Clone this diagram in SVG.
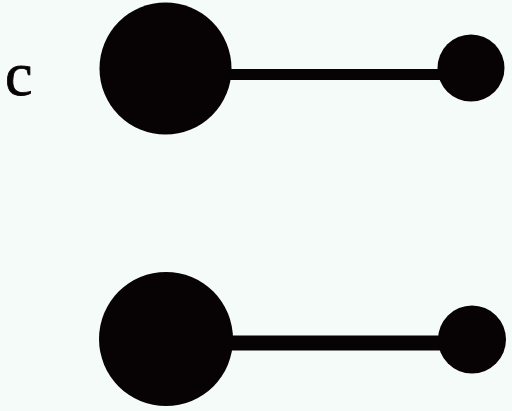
<svg xmlns="http://www.w3.org/2000/svg" width="512" height="411" viewBox="0 0 512 411">
<style>
.n{fill:#070305}
.e{stroke:#070305;fill:none}
.t{font-family:"Liberation Serif","DejaVu Serif",serif;fill:#070305}
</style>
<rect width="512" height="411" fill="#f5fbf8"/>
<text class="t" x="5" y="95" font-size="62" stroke="#070305" stroke-width="0.8">c</text>
<g id="connectors">
<line class="e" x1="225" y1="74.5" x2="445" y2="74.5" stroke-width="11"/>
<line class="e" x1="225" y1="343" x2="445" y2="343" stroke-width="15"/>
</g>
<g id="top-large"><circle class="n" cx="165.5" cy="68.5" r="66"/></g>
<g id="top-small"><circle class="n" cx="471" cy="68" r="33.5"/></g>
<g id="bottom-large"><circle class="n" cx="166" cy="339" r="67"/></g>
<g id="bottom-small"><circle class="n" cx="472" cy="339.5" r="34"/></g>
</svg>
